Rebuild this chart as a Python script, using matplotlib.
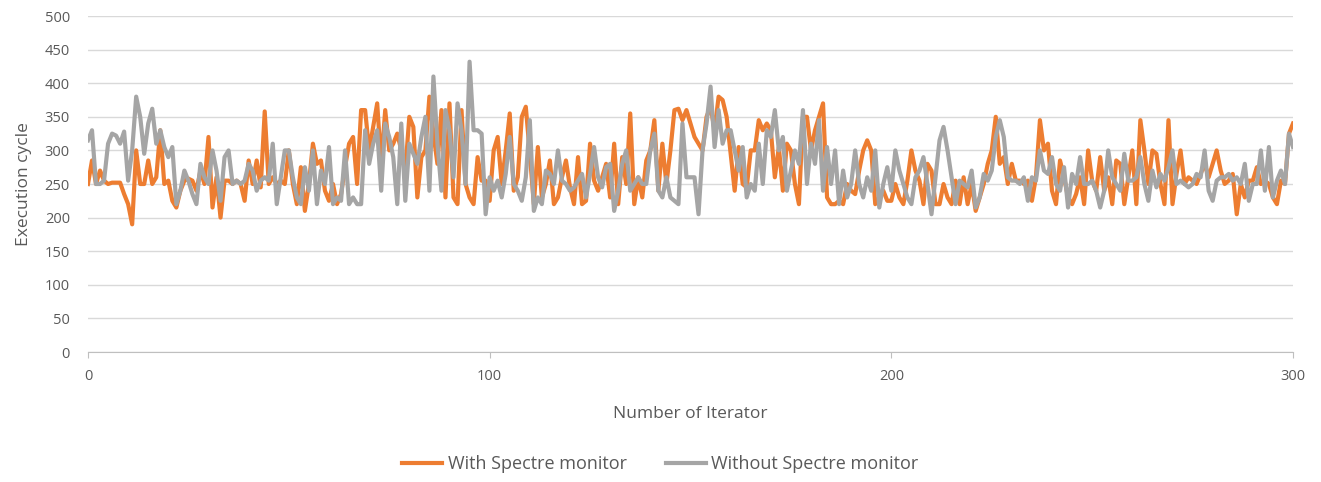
import matplotlib
matplotlib.use("Agg")
import matplotlib.pyplot as plt
import numpy as np

plt.rcParams['font.family'] = ['Open Sans', 'DejaVu Sans']

# values (approximate)
with_spectre = [
    250, 285, 250, 270, 255, 250, 252, 252, 252, 235, 220, 190, 300, 250, 250, 285, 250, 260, 330, 250, 255, 225, 215, 240, 255,
    258, 255, 240, 270, 250, 320, 215, 260, 200, 255, 255, 250, 255, 250, 225, 285, 250, 285, 245, 358, 250, 260, 250, 255, 250,
    300, 250, 220, 275, 210, 250, 310, 280, 285, 240, 225, 250, 220, 235, 275, 310, 320, 250, 360, 360, 300, 335, 370, 280, 360,
    300, 310, 325, 300, 270, 350, 335, 230, 290, 300, 380, 325, 280, 360, 230, 370, 230, 220, 360, 250, 230, 220, 290, 255, 255,
    225, 300, 320, 250, 300, 355, 240, 260, 350, 365, 295, 220, 305, 230, 250, 285, 220, 230, 260, 285, 245, 220, 290, 220, 225,
    310, 255, 240, 260, 280, 230, 310, 220, 290, 250, 355, 220, 260, 230, 285, 300, 345, 240, 310, 250, 300, 360, 362, 345, 360,
    340, 320, 310, 300, 350, 365, 330, 380, 375, 350, 295, 240, 305, 250, 245, 300, 300, 345, 330, 340, 330, 260, 305, 240, 310,
    300, 250, 220, 350, 350, 300, 330, 350, 370, 230, 220, 220, 225, 220, 250, 240, 235, 270, 300, 315, 300, 220, 230, 240, 225,
    225, 250, 230, 220, 255, 300, 270, 255, 220, 280, 270, 220, 220, 250, 230, 220, 255, 220, 260, 220, 250, 210, 230, 250, 280,
    300, 350, 280, 290, 250, 280, 255, 255, 250, 255, 225, 260, 345, 300, 310, 240, 220, 285, 260, 230, 220, 235, 260, 220, 300,
    255, 240, 290, 240, 260, 220, 285, 280, 220, 260, 300, 220, 345, 300, 250, 300, 295, 250, 220, 345, 220, 265, 300, 250, 260,
    255, 250, 265, 280, 260, 280, 300, 270, 250, 255, 265, 205, 250, 230, 255, 255, 275, 250, 255, 250, 230, 220, 255, 250, 325, 340,
]
without_spectre = [
    315, 330, 250, 250, 255, 310, 325, 322, 310, 328, 255, 300, 380, 350, 295, 340, 362, 310, 330, 305, 290, 305, 220, 240, 270,
    255, 235, 220, 280, 260, 250, 300, 270, 225, 290, 300, 250, 255, 250, 255, 280, 270, 240, 255, 260, 255, 310, 220, 260, 300,
    300, 260, 230, 220, 275, 240, 300, 220, 270, 250, 305, 220, 230, 225, 300, 220, 230, 220, 220, 330, 280, 310, 330, 240, 340,
    320, 290, 220, 340, 225, 310, 295, 280, 320, 350, 240, 410, 310, 240, 360, 330, 260, 370, 330, 250, 432, 330, 330, 325, 205,
    260, 240, 255, 230, 265, 320, 250, 240, 225, 260, 345, 210, 230, 220, 270, 265, 250, 300, 255, 250, 240, 245, 255, 265, 230,
    265, 305, 260, 245, 275, 280, 210, 240, 280, 300, 240, 250, 260, 250, 250, 300, 325, 240, 230, 260, 230, 225, 220, 340, 260,
    260, 260, 205, 300, 340, 395, 305, 360, 310, 330, 330, 300, 270, 305, 230, 250, 240, 310, 250, 330, 320, 360, 300, 320, 240,
    270, 300, 280, 360, 250, 310, 280, 345, 240, 305, 250, 300, 220, 270, 230, 250, 300, 250, 230, 260, 240, 300, 215, 250, 275,
    240, 300, 270, 250, 230, 220, 260, 270, 290, 250, 205, 260, 315, 335, 300, 260, 220, 255, 250, 245, 270, 215, 230, 265, 255,
    270, 320, 345, 320, 260, 255, 255, 250, 260, 225, 260, 255, 300, 270, 265, 290, 250, 240, 275, 215, 265, 250, 290, 250, 250,
    255, 240, 215, 240, 300, 260, 250, 240, 295, 255, 255, 260, 290, 250, 225, 270, 245, 265, 255, 275, 300, 250, 255, 250, 245,
    250, 265, 260, 300, 240, 225, 255, 260, 260, 265, 255, 260, 250, 280, 225, 250, 250, 300, 240, 305, 230, 255, 270, 250, 325, 305,
]
x_ticks = [0, 100, 200, 300]
y_ticks = list(range(0, 501, 50))

txt = '#595959'
fig = plt.figure(figsize=(13.21, 4.82), dpi=100)
ax = fig.add_axes([0.0666, 0.2697, 0.9122, 0.6971])

ax.plot(np.arange(len(with_spectre)), with_spectre, color='#ED7D31', lw=3.0,
        solid_joinstyle='round', label='With Spectre monitor')
ax.plot(np.arange(len(without_spectre)), without_spectre, color='#A5A5A5', lw=3.0,
        solid_joinstyle='round', label='Without Spectre monitor')

ax.set_xlim(0, 300)
ax.set_ylim(0, 500)
ax.set_xticks(x_ticks)
ax.set_yticks(y_ticks)
ax.grid(axis='y', color='#D9D9D9', lw=1)
ax.set_axisbelow(True)
for s in ['top', 'right', 'left']:
    ax.spines[s].set_visible(False)
ax.spines['bottom'].set_color('#BFBFBF')
ax.tick_params(axis='y', length=0, labelsize=10.5, labelcolor=txt, pad=13)
ax.tick_params(axis='x', length=4, color='#BFBFBF', labelsize=10.5, labelcolor=txt, pad=8)

ax.set_xlabel('Number of Iterator', fontsize=12.5, color=txt, labelpad=16)
ax.set_ylabel('Execution cycle', fontsize=12.5, color=txt, labelpad=9)

fig.legend(loc='lower center', bbox_to_anchor=(0.5, -0.015), ncol=2, frameon=False,
           fontsize=13, labelcolor=txt, handlelength=2.2, handletextpad=0.3,
           columnspacing=2.2)

fig.savefig('out.png', dpi=100)
